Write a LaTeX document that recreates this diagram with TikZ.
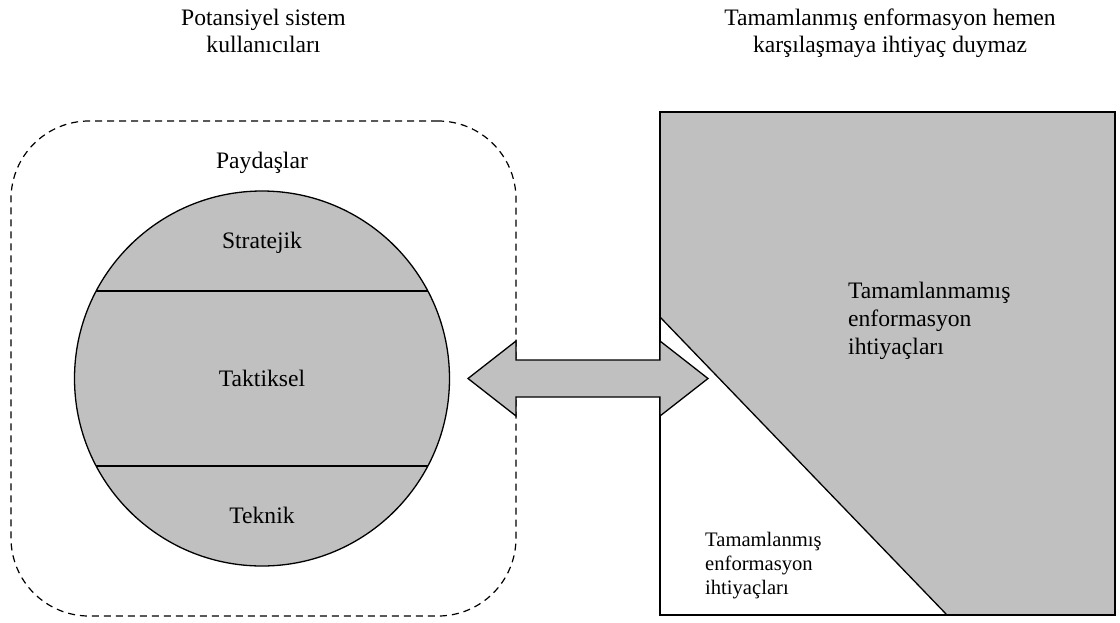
\documentclass[tikz,border=0pt]{standalone}
\usepackage{fontspec}
\setmainfont{Liberation Serif}
\definecolor{panel}{RGB}{192,192,192}

\begin{document}
\begin{tikzpicture}[x=1pt, y=-1pt]
 \tikzstyle{zone}=[draw, dash pattern=on 7pt off 5pt, line width=1.2pt, rounded corners=78pt, inner sep=0pt, outer sep=0pt]
 \tikzstyle{disc}=[circle, draw, fill=panel, line width=1.3pt, minimum size=375pt, inner sep=0pt, outer sep=0pt]
 \tikzstyle{edge}=[line width=1.3pt, line join=miter]
 \tikzstyle{big}=[font=\fontsize{23.6}{27}\selectfont, align=center, inner sep=0pt]
 \tikzstyle{small}=[font=\fontsize{20.6}{24}\selectfont, align=left, inner sep=0pt]
 \useasboundingbox (0,0) rectangle (1120,622);
 %
 \node[zone, minimum width=505pt, minimum height=495pt] (users) at (263.5,368.5) {};
 \node[disc] (stake) at (262,378.5) {};
 \draw[edge] (96.2,291) -- (427.8,291);
 \draw[edge] (96.2,466) -- (427.8,466);
 %
 \fill[panel] (660,112) -- (1115,112) -- (1115,615) -- (947,615) -- (660,317) -- cycle;
 \draw[edge] (660,112) rectangle (1115,615);
 \draw[edge] (660,317) -- (947,615);
 %
 \draw[edge, fill=panel] (468,378.5) -- (516,341) -- (516,360) -- (660,360) -- (660,341)
   -- (708,378.5) -- (660,416) -- (660,397) -- (516,397) -- (516,416) -- cycle;
 %%
 \node[big, anchor=north] (potential) at (263.5,9) {Potansiyel sistem\\kullanıcıları};
 \node[big, anchor=north] (nomatch) at (890,9) {Tamamlanmış enformasyon hemen\\karşılaşmaya ihtiyaç duymaz};
 \node[big, anchor=base] (paydas) at (262,168) {Paydaşlar};
 \node[big, anchor=base] (strat) at (262,248) {Stratejik};
 \node[big, anchor=base] (takt) at (262,386) {Taktiksel};
 \node[big, anchor=base] (tekn) at (262,523) {Teknik};
 \node[big, align=left, anchor=north west, font=\fontsize{23.6}{28}\selectfont] (unmet) at (848,281.5) {Tamamlanmamış\\enformasyon\\ihtiyaçları};
 \node[small, anchor=north west] (met) at (705,531.5) {Tamamlanmış\\enformasyon\\ihtiyaçları};
\end{tikzpicture}
\end{document}
